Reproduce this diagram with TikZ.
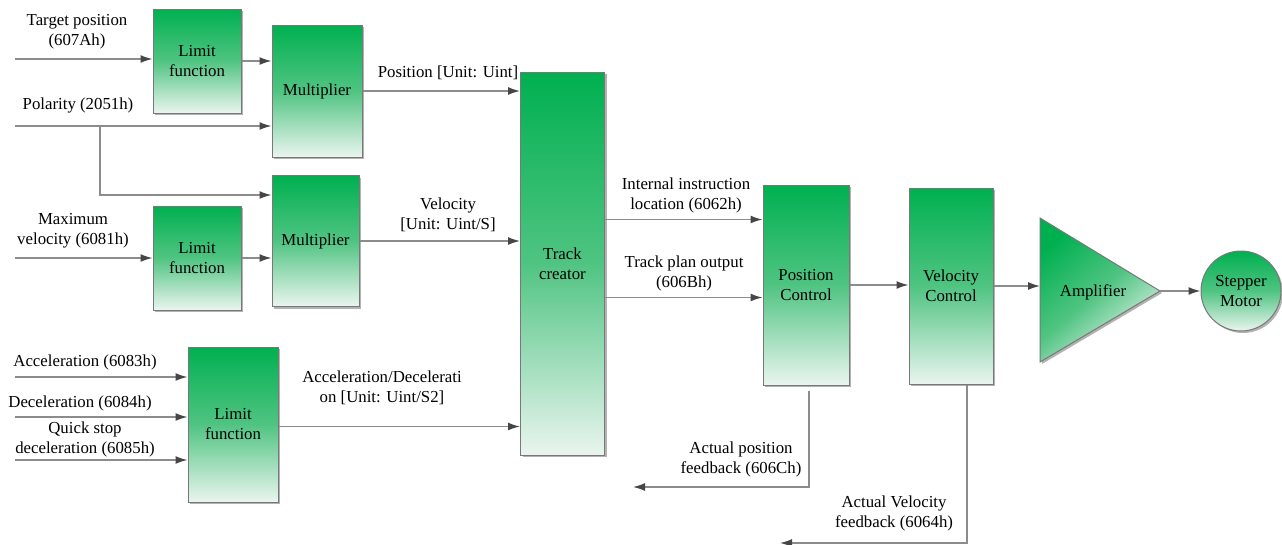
\documentclass[tikz,border=0pt]{standalone}
\usepackage{fontspec}
\setmainfont{Liberation Serif}
\usetikzlibrary{arrows.meta,shadows,calc}
\definecolor{gtop}{RGB}{0,176,80}
\definecolor{gmid}{RGB}{80,196,130}
\definecolor{gbot}{RGB}{234,245,239}
\definecolor{lnc}{RGB}{140,140,140}
\definecolor{tipc}{RGB}{70,70,70}
\definecolor{bdc}{RGB}{120,120,120}
\tikzset{
  txt/.style={font=\rmfamily\fontsize{16.8}{20}\selectfont, align=center, inner sep=0pt},
  blk/.style={txt, draw=bdc, line width=1pt, top color=gtop, bottom color=gbot, middle color=gmid,
    drop shadow={shadow xshift=2pt, shadow yshift=-2pt, opacity=0.3, fill=black}},
  arr/.style={draw=lnc, line width=1.4pt, -{Latex[length=12pt,width=8pt,color=tipc]}},
}
\begin{document}
\begin{tikzpicture}[x=1pt,y=-1pt]
\useasboundingbox (0,0) rectangle (1282,544);
% blocks
\node[blk, minimum width=88, minimum height=104] (lim1) at (197,61) {Limit\\function};
\node[blk, minimum width=90, minimum height=132] (mult1) at (317,91) {Multiplier};
\node[blk, minimum width=87, minimum height=131] (mult2) at (315.5,241) {Multiplier};
\node[blk, minimum width=88, minimum height=104] (lim2) at (197,258) {Limit\\function};
\node[blk, minimum width=90, minimum height=155] (lim3) at (233,424.5) {Limit\\function};
\node[blk, minimum width=84, minimum height=383] (track) at (562.5,263.5) {Track\\creator};
\node[blk, minimum width=86, minimum height=200] (pos) at (806,285) {Position\\Control};
\node[blk, minimum width=84, minimum height=196] (vel) at (951,286) {Velocity\\Control};
% amplifier
\path[draw=bdc, line width=1pt, top color=gtop, bottom color=gbot, middle color=gmid, shading angle=40,
  drop shadow={shadow xshift=2pt, shadow yshift=-2pt, opacity=0.3, fill=black}]
  (1040,218) -- (1160,291) -- (1040,362) -- cycle;
\node[txt] (amp) at (1093,292) {Amplifier};
\coordinate (ampin) at (1040,287);
\coordinate (ampout) at (1160,291);
\node[blk, circle, minimum size=80] (mot) at (1241,291) {Stepper\\Motor};

% input coordinates
\coordinate (tp) at (15,59);
\coordinate (pol) at (15,126);
\coordinate (br) at (100,126);
\coordinate (mv) at (15,258);
\coordinate (acc) at (15,377);
\coordinate (dec) at (15,417);
\coordinate (qs) at (15,460);
\coordinate (fb1) at (633,487);
\coordinate (fb2) at (780,543);

% connectors
\draw[arr] (tp) -- (tp -| lim1.west);
\draw[arr] (lim1.east) -- (lim1.east -| mult1.west);
\draw[arr] (pol) -- (pol -| mult1.west);
\draw[arr] (br) |- ([yshift=-20pt]mult2.north west);
\draw[arr] (mv) -- (mv -| lim2.west);
\draw[arr] (lim2.east) -- (lim2.east -| mult2.west);
\draw[arr] (mult1.east) -- (mult1.east -| track.west);
\draw[arr] (mult2.east) -- (mult2.east -| track.west);
\draw[arr] (acc) -- (acc -| lim3.west);
\draw[arr] (dec) -- (dec -| lim3.west);
\draw[arr] (qs) -- (qs -| lim3.west);
\draw[arr] ([yshift=-2pt]lim3.east) -- ([yshift=-2pt]lim3.east -| track.west);
\draw[arr] ([yshift=-35pt]pos.north west -| track.east) -- ([yshift=-35pt]pos.north west);
\draw[arr] ([yshift=-113pt]pos.north west -| track.east) -- ([yshift=-113pt]pos.north west);
\draw[arr] (pos.east) -- (pos.east -| vel.west);
\draw[arr] (vel.east) -- (ampin |- vel.east);
\draw[arr] (ampout) -- (mot.west);
\draw[arr] ([xshift=3pt,yshift=-5pt]pos.south) |- (fb1);
\draw[arr] ([xshift=16pt]vel.south) |- (fb2);

% labels
\node[txt] (ltp) at (77,31.5) {Target position\\(607Ah)};
\node[txt] (lpol) at (78,105) {Polarity (2051h)};
\node[txt] (lmv) at (73,230.5) {Maximum\\velocity (6081h)};
\node[txt] (lacc) at (85,362) {Acceleration (6083h)};
\node[txt] (ldec) at (80,403) {Deceleration (6084h)};
\node[txt] (lqs) at (85,439) {Quick stop\\deceleration (6085h)};
\node[txt] (lposu) at (448,73) {Position [Unit: Uint]};
\node[txt] (lvelu) at (448,215) {Velocity\\{}[Unit: Uint/S]};
\node[txt] (laccu) at (382,388) {Acceleration/Decelerati\\on [Unit: Uint/S2]};
\node[txt] (lint) at (686,195) {Internal instruction\\location (6062h)};
\node[txt] (ltpo) at (684,273) {Track plan output\\(606Bh)};
\node[txt] (lapf) at (741,459) {Actual position\\feedback (606Ch)};
\node[txt] (lavf) at (894,513.5) {Actual Velocity\\feedback (6064h)};
\end{tikzpicture}
\end{document}
